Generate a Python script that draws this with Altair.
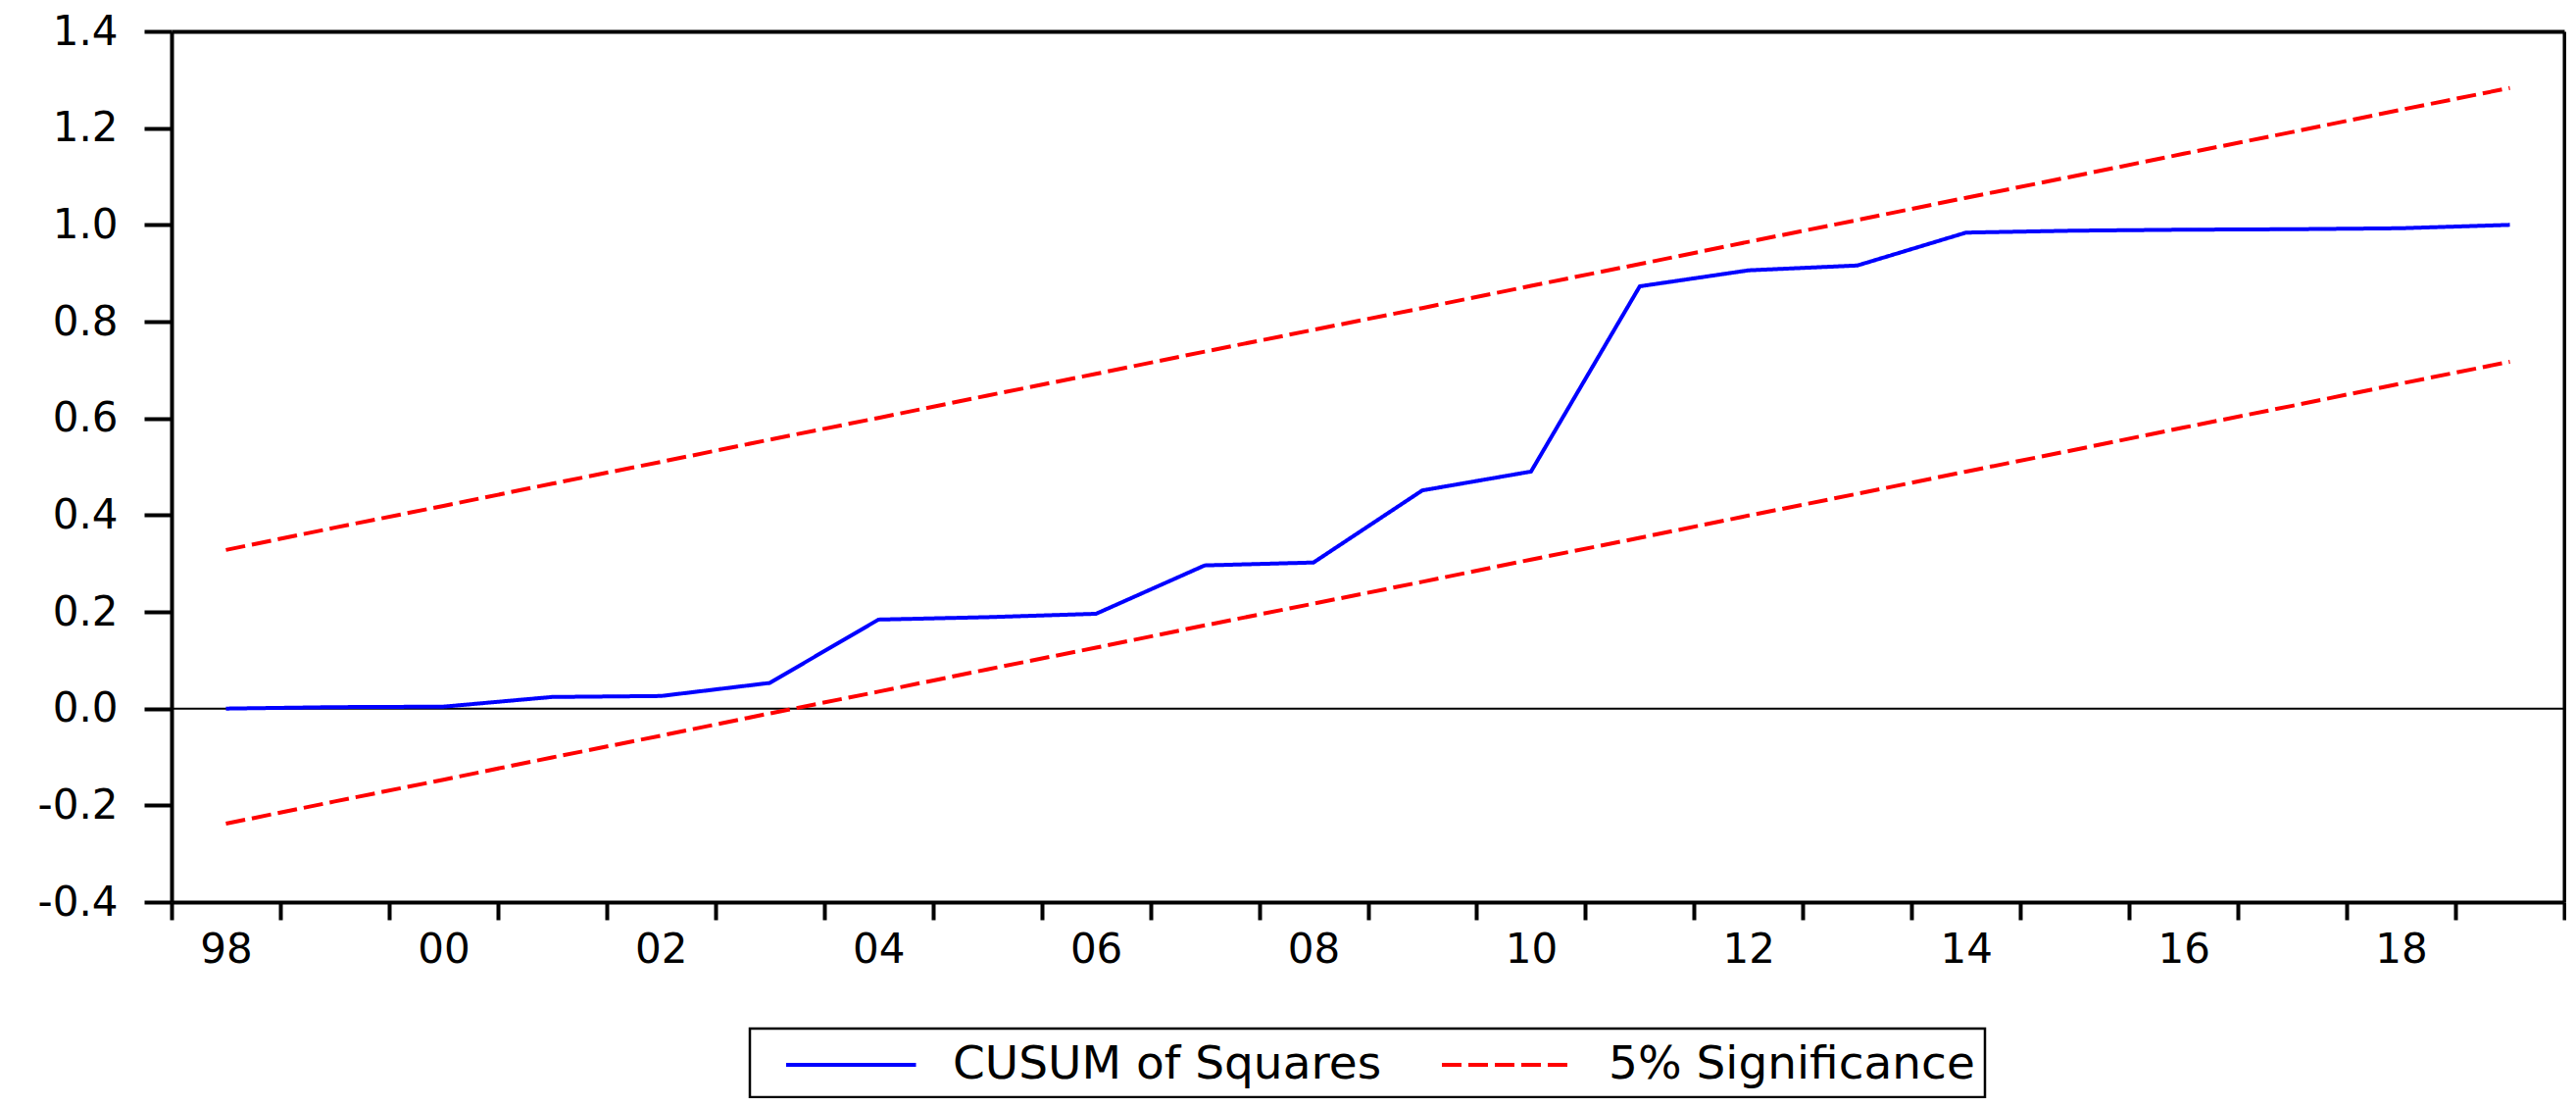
import altair as alt
import pandas as pd

# ---- data ----
years = list(range(1998, 2020))
cusum_sq = [0.000, 0.003, 0.004, 0.024, 0.026, 0.053, 0.184, 0.189, 0.196, 0.296, 0.302,
            0.451, 0.490, 0.873, 0.906, 0.916, 0.984, 0.988, 0.990, 0.991, 0.993, 1.000]
upper_5pct = [0.328, 0.374, 0.419, 0.465, 0.510, 0.556, 0.601, 0.647, 0.692, 0.738, 0.783,
              0.828, 0.874, 0.919, 0.965, 1.010, 1.056, 1.101, 1.147, 1.192, 1.238, 1.283]
lower_5pct = [-0.238, -0.192, -0.147, -0.101, -0.056, -0.010, 0.035, 0.081, 0.126, 0.172, 0.217,
              0.262, 0.308, 0.353, 0.399, 0.444, 0.490, 0.535, 0.581, 0.626, 0.672, 0.717]
label_years = [1998, 2000, 2002, 2004, 2006, 2008, 2010, 2012, 2014, 2016, 2018]
y_ticks = [-0.4, -0.2, 0.0, 0.2, 0.4, 0.6, 0.8, 1.0, 1.2, 1.4]
series_names = ["CUSUM of Squares", "5% Significance"]
series_colors = ["#0000ff", "#ff0000"]

rows = []
for yr, v in zip(years, cusum_sq):
    rows.append({"year": yr, "value": v, "series": series_names[0], "line": "cusum"})
for yr, v in zip(years, upper_5pct):
    rows.append({"year": yr, "value": v, "series": series_names[1], "line": "upper"})
for yr, v in zip(years, lower_5pct):
    rows.append({"year": yr, "value": v, "series": series_names[1], "line": "lower"})
df = pd.DataFrame(rows)

FONT = "DejaVu Sans"
LW = 4

x_tick_values = list(range(1998, 2021)) + [y + 0.5 for y in label_years]
x_scale = alt.Scale(domain=[1998, 2020], nice=False, zero=False)
y_scale = alt.Scale(domain=[-0.4, 1.4], nice=False, zero=False)

x_axis = alt.Axis(
    values=x_tick_values, title=None, grid=False,
    domain=True, domainColor="black", domainWidth=LW,
    tickColor="black", tickWidth=LW, tickSize=18,
    tickOpacity={"condition": {"test": "datum.value % 1 === 0", "value": 1}, "value": 0},
    labelExpr="datum.value % 1 === 0 ? '' : format(floor(datum.value) % 100, '02d')",
    labelFont=FONT, labelFontSize=42, labelColor="black", labelPadding=10,
    labelOverlap=False, labelFlush=False, labelBound=False,
)
y_axis = alt.Axis(
    values=y_ticks, title=None, grid=False,
    domain=True, domainColor="black", domainWidth=LW,
    labelExpr="(datum.value < -0.0001 ? '-' : '') + format(abs(datum.value), '.1f')",
    tickColor="black", tickWidth=LW, tickSize=28,
    labelFont=FONT, labelFontSize=42, labelColor="black", labelPadding=27,
    labelOverlap=False, labelFlush=False, labelBound=False,
)
x_top = alt.Axis(orient="top", title=None, grid=False, ticks=False, labels=False,
                 domain=True, domainColor="black", domainWidth=LW)
y_right = alt.Axis(orient="right", title=None, grid=False, ticks=False, labels=False,
                   domain=True, domainColor="black", domainWidth=LW)

legend = alt.Legend(
    title=None, orient="none", legendX=590, legendY=1017, direction="horizontal", columns=2,
    symbolType="M0,0H5.3", symbolSize=2500, symbolStrokeWidth=LW,
    labelFont=FONT, labelFontSize=47, labelColor="black", labelOffset=143, labelLimit=2000,
    columnPadding=34, padding=10, strokeColor="black", fillColor="white",
)

zero = alt.Chart(pd.DataFrame({"z": [0.0]})).mark_rule(color="black", strokeWidth=2).encode(
    y=alt.Y("z:Q", scale=y_scale, axis=None)
)

base = alt.Chart(df).transform_calculate(xpos="datum.year + 0.5")

lines = base.mark_line(strokeWidth=LW).encode(
    x=alt.X("xpos:Q", scale=x_scale, axis=x_axis),
    y=alt.Y("value:Q", scale=y_scale, axis=y_axis),
    color=alt.Color("series:N", scale=alt.Scale(domain=series_names, range=series_colors), legend=legend),
    strokeDash=alt.StrokeDash("series:N", scale=alt.Scale(domain=series_names, range=[[1, 0], [20, 7]]), legend=legend),
    detail="line:N",
)

frame = base.mark_point(opacity=0).encode(
    x=alt.X("xpos:Q", scale=x_scale, axis=x_top),
    y=alt.Y("value:Q", scale=y_scale, axis=y_right),
)

chart = alt.layer(zero, lines, frame).resolve_axis(
    x="independent", y="independent"
).properties(
    width=2441, height=888,
    autosize=alt.AutoSizeParams(type="none"),
    padding={"left": 167, "top": 24, "right": 2, "bottom": 200},
    background="white",
).configure_view(
    stroke=None
).configure_legend(
    strokeWidth=2.5
)

chart.save("out.html", embed_options={"renderer": "svg", "actions": False})
